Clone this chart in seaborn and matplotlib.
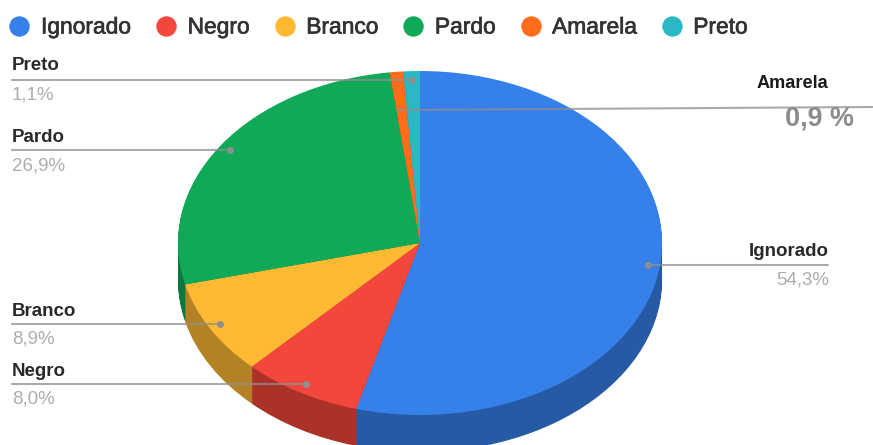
import matplotlib
matplotlib.use("Agg")
import matplotlib.pyplot as plt
import matplotlib.patheffects as pe
from matplotlib.lines import Line2D
from matplotlib.transforms import Affine2D
import seaborn as sns

categories = ["Ignorado", "Negro", "Branco", "Pardo", "Amarela", "Preto"]
values = [54.3, 8.0, 8.9, 26.9, 0.9, 1.1]
value_labels = ["54,3%", "8,0%", "8,9%", "26,9%", "0,9 %", "1,1%"]
colors = ["#3680EA", "#F4473B", "#FFB933", "#0FA958", "#FF6D1B", "#2BB8C4"]

W, H = 873, 445
CX, CY, RX, RY, DEPTH = 420, 243, 242, 172, 37

sns.set_theme(style="white")
plt.rcParams["font.family"] = ["Liberation Sans", "DejaVu Sans"]
palette = sns.color_palette(colors)
dark = [tuple(c * 0.70 for c in col) for col in palette]

fig = plt.figure(figsize=(W / 100, H / 100), dpi=100)
ax = fig.add_axes([0, 0, 1, 1])

# extruded side: stacked darker pies, then the top face
for k in range(DEPTH, 0, -1):
    ax.pie(values, colors=dark, startangle=90, counterclock=False,
           center=(0, -k / RY), radius=1, wedgeprops={"linewidth": 0.3, "edgecolor": "none"})
ax.pie(values, colors=palette, startangle=90, counterclock=False,
       center=(0, 0), radius=1, wedgeprops={"linewidth": 0})
ax.set_aspect("auto")
ax.set_xlim(-CX / RX, (W - CX) / RX)
ax.set_ylim((CY - H) / RY, CY / RY)
ax.axis("off")

# pixel coordinates, origin top-left, for annotation layout
px = Affine2D().scale(1, -1).translate(0, H)
GREY = "#8f8f8f"
DARK = "#2a2a2a"
LIGHT = "#adadad"
FS = 18.8 * 0.72

def leader(x0, y0, x1, y1, dot=None):
    ax.add_line(Line2D([x0, x1], [y0, y1], transform=px, color=GREY, lw=1.5, alpha=0.75, zorder=5))
    if dot:
        ax.add_line(Line2D([dot[0]], [dot[1]], transform=px, marker="o", ms=4, color=GREY, zorder=6, lw=0))

def label(x, y, s, color, ha="left", size=FS, weight="bold"):
    ax.text(x, y, s, transform=px, ha=ha, va="center", color=color, fontsize=size, fontweight=weight)

# left-hand labels: name y, line y, value y, dot x
left = {"Preto": (66, 80, 95, 412), "Pardo": (137, 150, 166, 230),
        "Branco": (311, 324, 339, 220), "Negro": (371, 384, 399, 306)}
for name, (ny, ly, vy, dx) in left.items():
    i = categories.index(name)
    leader(12, ly, dx, ly, (dx, ly))
    label(12, ny, name, DARK)
    label(12, vy, value_labels[i], LIGHT, weight="normal")

# Ignorado, right side
leader(648, 265, 828, 265, (648, 265))
label(829, 251, "Ignorado", DARK, ha="right")
label(829, 280, value_labels[0], LIGHT, ha="right", weight="normal")

# Amarela, annotated far right
leader(397, 110, 873, 107)
label(757, 83, "Amarela", "#1a1a1a", size=18.2 * 0.72)
label(785, 118, value_labels[4], "#8c8c8c", size=27 * 0.72)

# legend
handles = [Line2D([], [], marker="o", ls="", color=c, ms=19 * 0.72) for c in palette]
leg = ax.legend(handles, categories, ncol=6, frameon=False, loc="center left",
                bbox_to_anchor=(10 / W, 1 - 27 / H), bbox_transform=fig.transFigure,
                labelcolor="#333333", handletextpad=0.53, columnspacing=1.12,
                borderaxespad=0, borderpad=0, handlelength=0.83,
                prop={"family": "Liberation Sans", "size": 22.8 * 0.72})
for t in leg.get_texts():
    t.set_path_effects([pe.withStroke(linewidth=0.5, foreground="#333333")])
fig.savefig("out.png", dpi=100, facecolor="white")
